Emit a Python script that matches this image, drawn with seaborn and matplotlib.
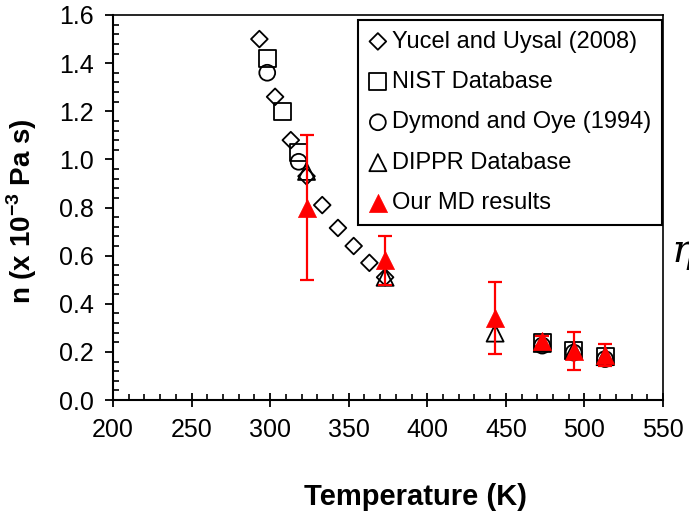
import matplotlib
matplotlib.use("Agg")
import matplotlib.pyplot as plt
from matplotlib.ticker import MultipleLocator
import seaborn as sns
import pandas as pd

# ---------------- data ----------------
yucel_T = [293.15, 303.15, 313.15, 323.15, 333.15, 343.15, 353.15, 363.15, 373.15]
yucel_v = [1.50, 1.26, 1.08, 0.93, 0.81, 0.715, 0.64, 0.57, 0.51]

nist_T = [298.15, 308.15, 318.15, 473.15, 493.15, 513.15]
nist_v = [1.42, 1.20, 1.03, 0.238, 0.205, 0.181]

dymond_T = [298.15, 318.15, 473.15, 493.15, 513.15]
dymond_v = [1.36, 0.99, 0.226, 0.197, 0.170]

dippr_T = [323.15, 373.15, 443.15, 473.15, 493.15, 513.15]
dippr_v = [0.95, 0.51, 0.278, 0.235, 0.205, 0.180]

md_T = [323.15, 373.15, 443.15, 473.15, 493.15, 513.15]
md_v = [0.80, 0.58, 0.34, 0.245, 0.204, 0.188]
md_err = [0.30, 0.10, 0.15, 0.02, 0.08, 0.045]

labels = ["Yucel and Uysal (2008)", "NIST Database", "Dymond and Oye (1994)",
          "DIPPR Database", "Our MD results"]
x_ticks = [200, 250, 300, 350, 400, 450, 500, 550]
y_ticks = [0.0, 0.2, 0.4, 0.6, 0.8, 1.0, 1.2, 1.4, 1.6]

# ---------------- style ----------------
sns.set_style("ticks")
plt.rcParams["font.family"] = ["Liberation Sans", "DejaVu Sans"]
plt.rcParams["mathtext.fontset"] = "custom"
plt.rcParams["mathtext.rm"] = "Liberation Sans"
plt.rcParams["mathtext.bf"] = "Liberation Sans:bold"
plt.rcParams["text.color"] = "black"
plt.rcParams["axes.labelcolor"] = "black"
plt.rcParams["xtick.color"] = "black"
plt.rcParams["ytick.color"] = "black"

fig = plt.figure(figsize=(6.89, 5.18), dpi=100)
ax = fig.add_axes([113 / 689, 1 - 400 / 518, 550 / 689, 385 / 518])

open_kw = dict(facecolor="none", edgecolor="black", linewidth=1.3, ax=ax)
sns.scatterplot(data=pd.DataFrame({"T": yucel_T, "v": yucel_v}), x="T", y="v",
                marker="D", s=72, label=labels[0], zorder=3, **open_kw)
sns.scatterplot(data=pd.DataFrame({"T": nist_T, "v": nist_v}), x="T", y="v",
                marker="s", s=150, label=labels[1], zorder=3, **open_kw)
sns.scatterplot(data=pd.DataFrame({"T": dymond_T, "v": dymond_v}), x="T", y="v",
                marker="o", s=130, label=labels[2], zorder=3, **open_kw)
sns.scatterplot(data=pd.DataFrame({"T": dippr_T, "v": dippr_v}), x="T", y="v",
                marker="^", s=150, label=labels[3], zorder=3, **open_kw)

ax.errorbar(md_T, md_v, yerr=md_err, fmt="none", ecolor="red", elinewidth=1.6,
            capsize=5, capthick=1.6, zorder=4)
sns.scatterplot(data=pd.DataFrame({"T": md_T, "v": md_v}), x="T", y="v",
                marker="^", s=170, color="red", edgecolor="red", linewidth=0.5,
                label=labels[4], zorder=5, ax=ax)

# ---------------- axes ----------------
ax.set_xlim(200, 550)
ax.set_ylim(0, 1.6)
ax.set_xticks(x_ticks)
ax.set_yticks(y_ticks)
ax.set_xticklabels([str(t) for t in x_ticks])
ax.set_yticklabels([f"{t:.1f}" for t in y_ticks])
ax.xaxis.set_minor_locator(MultipleLocator(10))
ax.yaxis.set_minor_locator(MultipleLocator(0.04))
ax.tick_params(which="major", direction="inout", length=10, width=1.3,
               labelsize=18, color="black", labelcolor="black", pad=8)
ax.tick_params(which="minor", direction="in", length=4, width=1.2, color="black")
ax.tick_params(axis="y", which="major", direction="out", length=6, pad=8)

for name, sp in ax.spines.items():
    sp.set_visible(True)
    sp.set_color("black")
    sp.set_linewidth(1.5 if name in ("left", "bottom") else 1.2)

ax.set_xlabel("Temperature (K)", fontsize=21, fontweight="bold", color="black")
ax.set_ylabel(r"n (x 10$^{\mathbf{-3}}$ Pa s)", fontsize=20, fontweight="bold",
              color="black")
ax.xaxis.set_label_coords(0.55, -0.215)
ax.yaxis.set_label_coords(-0.135, 0.49)

leg = ax.legend(loc="upper right", bbox_to_anchor=(0.998, 0.987), borderaxespad=0,
                fontsize=17, frameon=True, fancybox=False, framealpha=1,
                edgecolor="black", handlelength=0.8, handletextpad=0.2,
                labelspacing=0.78, borderpad=0.45, markerscale=1.0)
leg.get_frame().set_linewidth(1.5)
for t in leg.get_texts():
    t.set_color("black")

# partially visible symbol at the right edge of the original image
fig.text(671 / 689, 1 - 262 / 518, "η", fontsize=28, style="italic",
         family="DejaVu Serif", ha="left", va="baseline", color="black")

fig.savefig("out.png", dpi=100)
